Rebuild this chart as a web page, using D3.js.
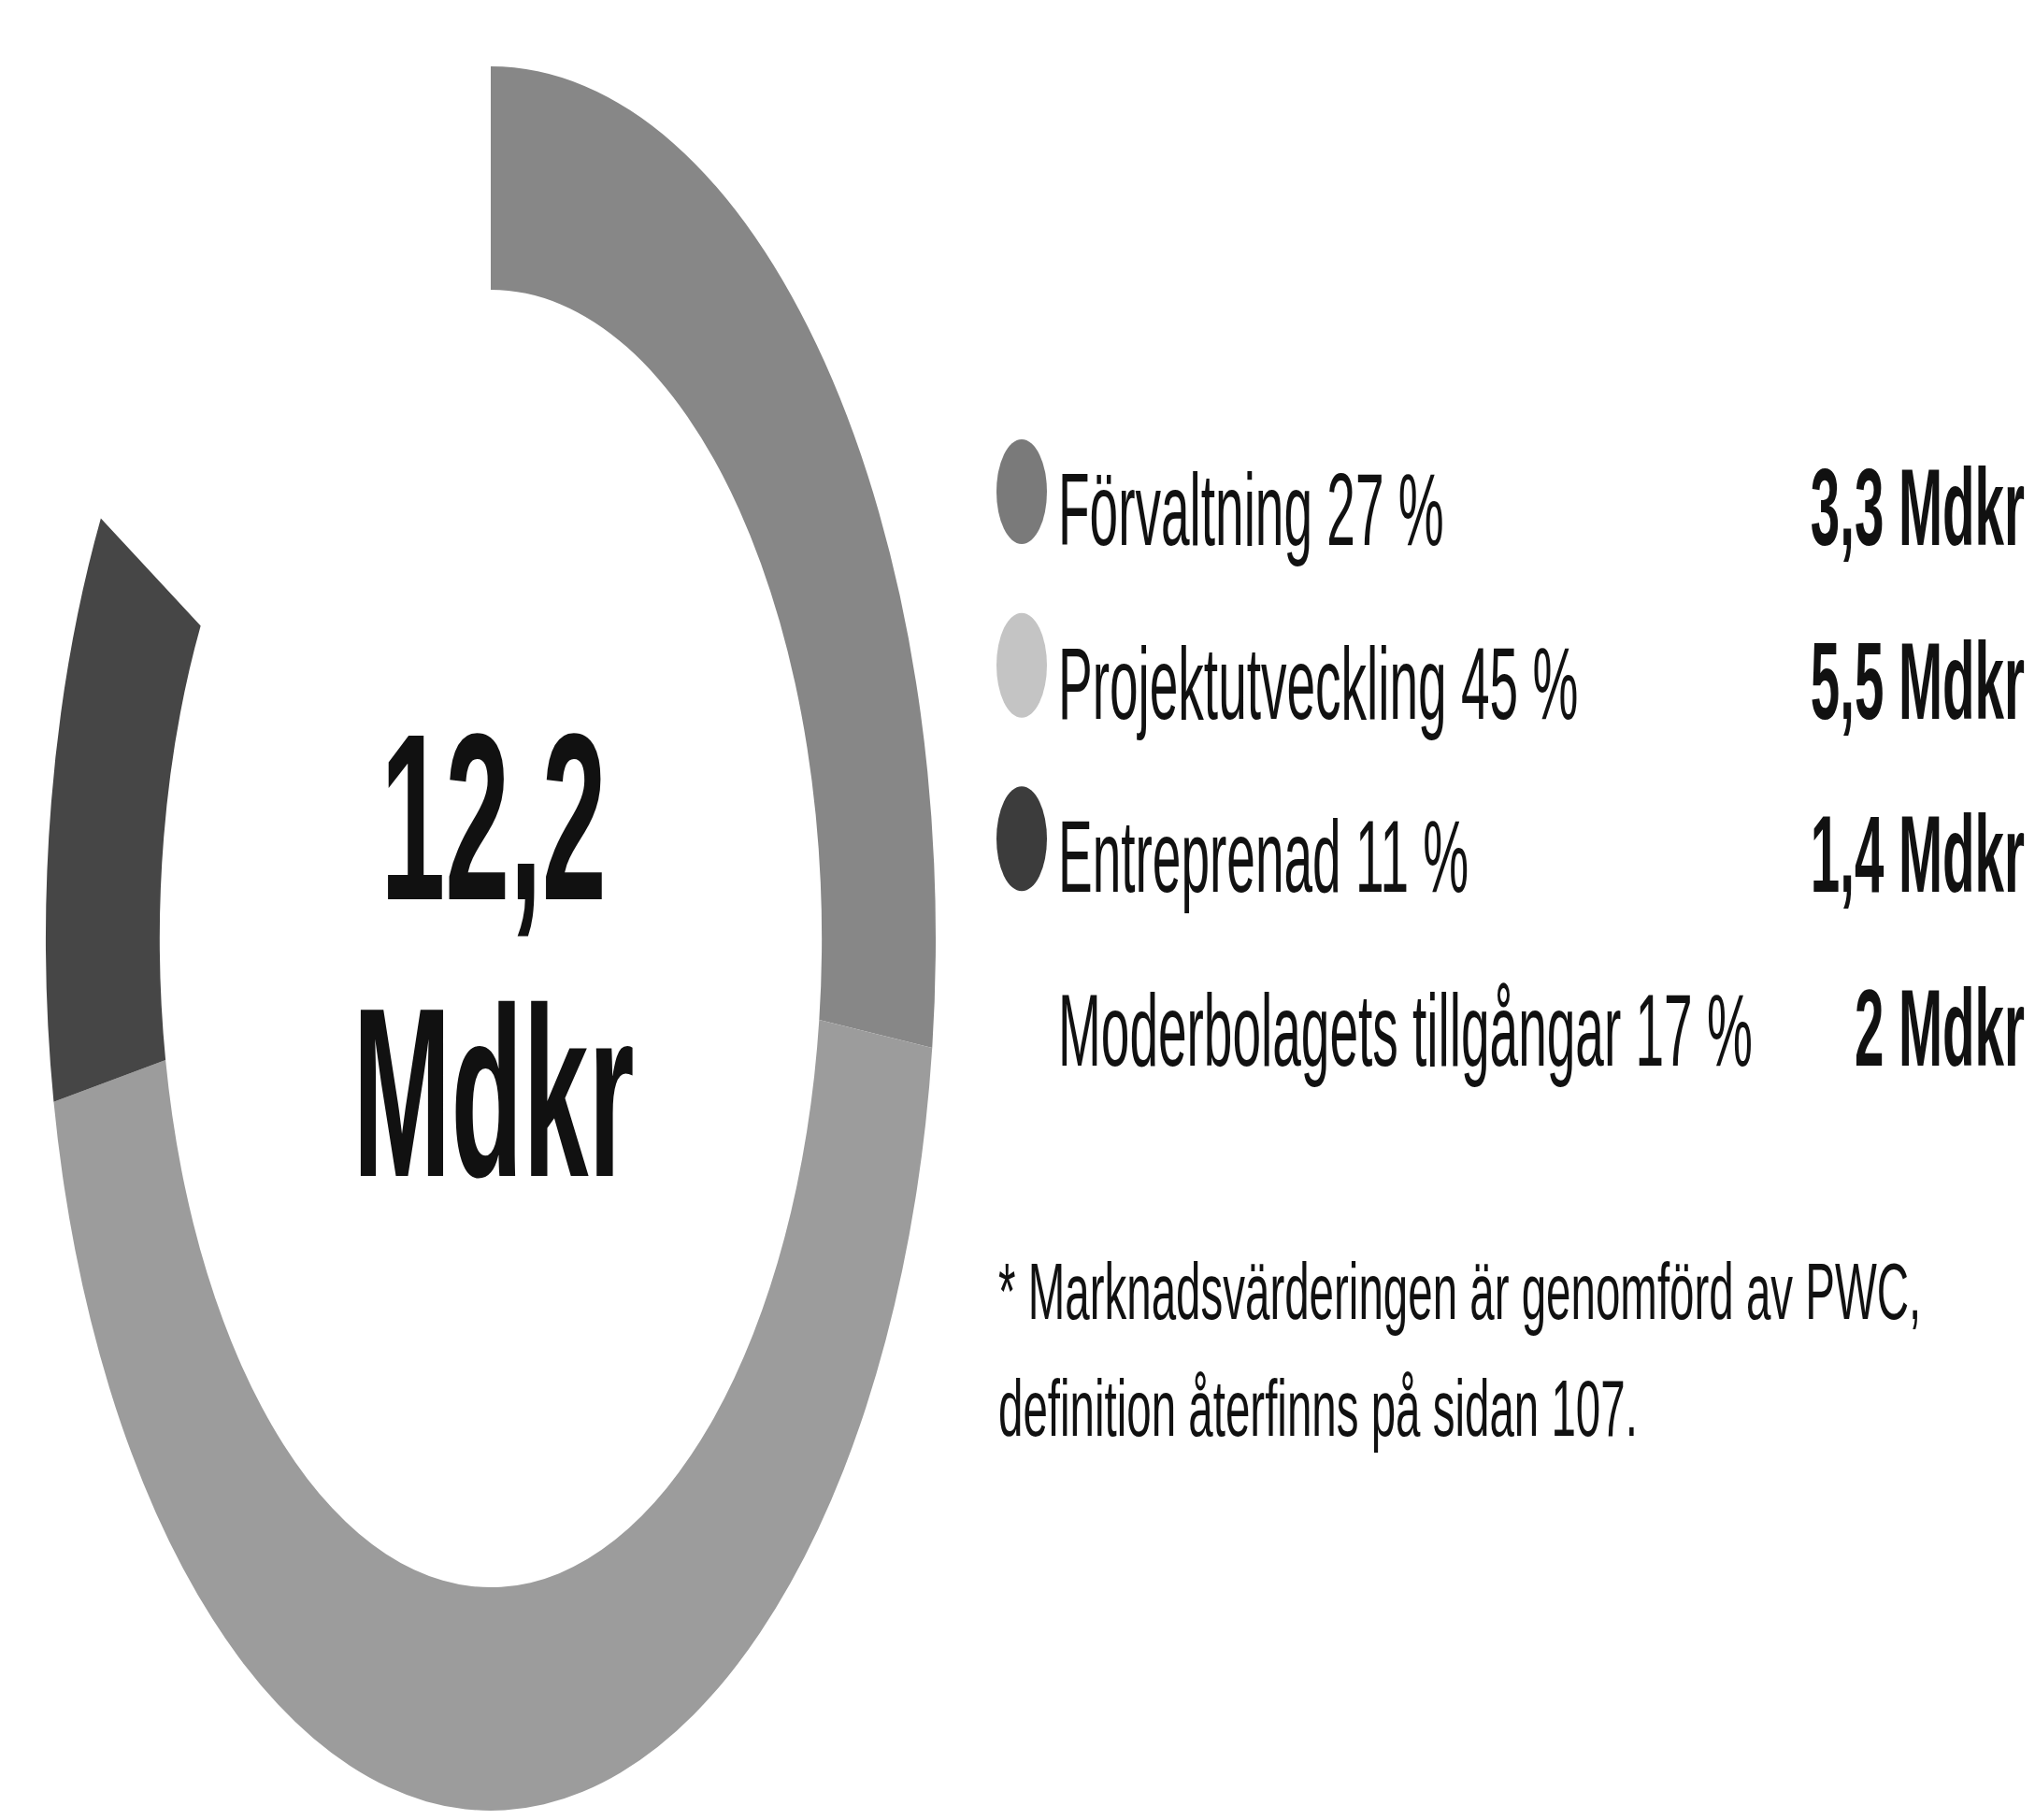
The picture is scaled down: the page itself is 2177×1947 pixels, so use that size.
<!DOCTYPE html>
<html>
<head>
<meta charset="utf-8">
<script src="https://cdn.jsdelivr.net/npm/d3@7"></script>
<style>
  html, body { margin: 0; padding: 0; background: #ffffff; }
  svg { display: block; }
  text { font-family: "Liberation Sans", Arial, sans-serif; fill: #111111; }
</style>
</head>
<body>
<svg id="chart" width="2177" height="1947"></svg>
<script>
// Asset breakdown, market value
const categories = ["Förvaltning", "Projektutveckling", "Entreprenad", "Moderbolagets tillgångar"];
const shares = [27, 45, 11, 17];            // percent of total
const amounts = [3.3, 5.5, 1.4, 2];         // Mdkr
const total = 12.2;                         // Mdkr
const sliceColors = ["#878787", "#9c9c9c", "#464646", "none"];
const markerColors = ["#7a7a7a", "#c4c4c4", "#3c3c3c", "none"];
const footnote = [
  "* Marknadsvärderingen är genomförd av PWC,",
  "definition återfinns på sidan 107."
];

const W = 2177, H = 1947;
const svg = d3.select("#chart").attr("viewBox", [0, 0, W, H]);
svg.append("rect").attr("width", W).attr("height", H).attr("fill", "#ffffff");

const fmt = v => d3.format(",")(v).replace(".", ",");

// ---- Ring (drawn round, then stretched vertically) ----
const cx = 525, cy = 1004, R = 476, stretch = 1.96;
const pie = d3.pie().sort(null).value(d => d.share).startAngle(0).endAngle(2 * Math.PI);
const arc = d3.arc().innerRadius(R * 0.744).outerRadius(R);
const slices = pie(categories.map((c, i) => ({ name: c, share: shares[i], color: sliceColors[i] })));

const ring = svg.append("g").attr("transform", `translate(${cx},${cy}) scale(1,${stretch})`);
ring.selectAll("path")
  .data(slices)
  .join("path")
  .attr("d", arc)
  .attr("fill", d => d.data.color);

// ---- Text helper: tall, condensed lettering ----
function stretchedText(parent, x, y, sy, str, opts) {
  const g = parent.append("g").attr("transform", `translate(${x},${y}) scale(1,${sy})`);
  return g.append("text")
    .attr("x", 0).attr("y", 0)
    .attr("text-anchor", opts.anchor || "start")
    .attr("font-size", opts.size)
    .attr("font-weight", opts.weight || 400)
    .text(str);
}

// ---- Centre total ----
stretchedText(svg, 528, 962, 2.05, fmt(total), { anchor: "middle", size: 124, weight: 700 });
stretchedText(svg, 528, 1258, 2.05, "Mdkr", { anchor: "middle", size: 126, weight: 700 });

// ---- Legend ----
const rowY = d3.scalePoint().domain(categories).range([583, 1140]);
const legend = svg.append("g");
categories.forEach((c, i) => {
  const y = rowY(c);
  if (markerColors[i] !== "none") {
    legend.append("ellipse")
      .attr("cx", 1093).attr("cy", y - 57)
      .attr("rx", 27).attr("ry", 56)
      .attr("fill", markerColors[i]);
  }
  stretchedText(legend, 1132, y, 1.98, `${c} ${shares[i]} %`, { size: 55 });
  stretchedText(legend, 2166, y, 2.07, `${fmt(amounts[i])} Mdkr`, { anchor: "end", size: 56.5, weight: 700 });
});

// ---- Footnote ----
footnote.forEach((line, i) => {
  stretchedText(svg, 1068, 1411 + i * 125, 1.8, line, { size: 47.5 });
});
</script>
</body>
</html>
